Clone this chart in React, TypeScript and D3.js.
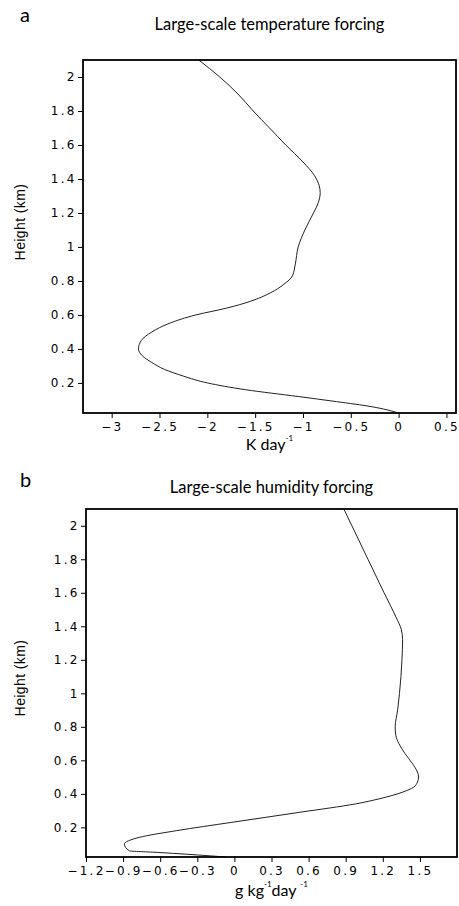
import { useEffect, useRef } from 'react';
import * as d3 from 'd3';

// panel a: large-scale temperature forcing (K/day) vs height (km)
const tempHeight = [2.1, 2.0, 1.9, 1.8, 1.7, 1.6, 1.5, 1.42, 1.36, 1.32, 1.26, 1.2, 1.1, 1.0, 0.9, 0.83, 0.78, 0.73, 0.68, 0.64, 0.6, 0.55, 0.5, 0.45, 0.4, 0.36, 0.32, 0.28, 0.24, 0.2, 0.16, 0.12, 0.09, 0.06, 0.023];
const tempForcing = [-2.09, -1.87, -1.68, -1.52, -1.35, -1.18, -1.0, -0.88, -0.83, -0.82, -0.84, -0.89, -0.98, -1.05, -1.08, -1.11, -1.2, -1.34, -1.55, -1.8, -2.12, -2.4, -2.58, -2.69, -2.72, -2.68, -2.58, -2.45, -2.25, -2.0, -1.6, -1.05, -0.65, -0.28, 0];

// panel b: large-scale humidity forcing (g/kg/day) vs height (km)
const humHeight = [2.1, 2.0, 1.8, 1.6, 1.45, 1.38, 1.32, 1.2, 1.0, 0.9, 0.8, 0.75, 0.7, 0.64, 0.58, 0.53, 0.5, 0.47, 0.44, 0.41, 0.37, 0.34, 0.29, 0.23, 0.18, 0.14, 0.1, 0.06, 0.05, 0.03, 0.023];
const humForcing = [0.885, 0.95, 1.08, 1.21, 1.31, 1.35, 1.36, 1.355, 1.335, 1.32, 1.3, 1.305, 1.33, 1.38, 1.44, 1.48, 1.49, 1.48, 1.45, 1.36, 1.17, 0.98, 0.53, -0.02, -0.47, -0.77, -0.89, -0.85, -0.61, -0.2, -0.07];

const heightTicks = [0.2, 0.4, 0.6, 0.8, 1, 1.2, 1.4, 1.6, 1.8, 2];
const tempTicks = [-3, -2.5, -2, -1.5, -1, -0.5, 0, 0.5];
const humTicks = [-1.2, -0.9, -0.6, -0.3, 0, 0.3, 0.6, 0.9, 1.2, 1.5];

const fmt = (d: number) => (d < 0 ? '\u2212' : '') + String(+Math.abs(d).toFixed(1));

const tickFont = '"DejaVu Sans", sans-serif';
const labelFont = 'Lato, sans-serif';

export default function App() {
  const svgRef = useRef<SVGSVGElement>(null);

  useEffect(() => {
    const svg = d3.select(svgRef.current);
    svg.selectAll('*').remove();

    const panels = [
      {
        letter: 'a', letterY: 22,
        title: 'Large-scale temperature forcing', titleY: 30,
        left: 83, right: 456, top: 60, bottom: 413,
        xDomain: [-3.3, 0.6], xTicks: tempTicks, xPad: 4,
        xs: tempForcing, hs: tempHeight, yLabelY: 222,
        unit: 'K day', sup1: '-1', mid: '', sup2: '', unitY: 450,
      },
      {
        letter: 'b', letterY: 487,
        title: 'Large-scale humidity forcing', titleY: 493,
        left: 86, right: 457, top: 509, bottom: 857,
        xDomain: [-1.2, 1.8], xTicks: humTicks, xPad: 4,
        xs: humForcing, hs: humHeight, yLabelY: 678,
        unit: 'g kg', sup1: '-1', mid: 'day ', sup2: '-1', unitY: 896,
      },
    ];

    panels.forEach(p => {
      const x = d3.scaleLinear().domain(p.xDomain).range([p.left, p.right]);
      const y = d3.scaleLinear().domain([0.023, 2.1]).range([p.bottom, p.top]);
      const g = svg.append('g');

      g.append('text')
        .attr('x', 20).attr('y', p.letterY)
        .attr('font-family', labelFont).attr('font-size', 20)
        .text(p.letter);

      g.append('text')
        .attr('x', (p.left + p.right) / 2).attr('y', p.titleY)
        .attr('text-anchor', 'middle')
        .attr('font-family', labelFont).attr('font-size', 16.5)
        .text(p.title);

      // x axis
      const xa = g.append('g')
        .attr('transform', `translate(0,${p.bottom})`)
        .call(d3.axisBottom(x).tickValues(p.xTicks).tickSize(5).tickPadding(p.xPad).tickFormat(d => fmt(+d)));
      xa.select('.domain').remove();
      xa.selectAll('text')
        .attr('font-family', tickFont)
        .attr('font-size', 12).attr('letter-spacing', 2.2).attr('fill', '#000');
      xa.selectAll('line').attr('stroke', '#000');

      // y axis
      const ya = g.append('g')
        .attr('transform', `translate(${p.left},0)`)
        .call(d3.axisLeft(y).tickValues(heightTicks).tickSize(5).tickPadding(1.5).tickFormat(d => String(d)));
      ya.select('.domain').remove();
      ya.selectAll('text')
        .attr('font-family', tickFont)
        .attr('font-size', 12).attr('letter-spacing', 2.2).attr('fill', '#000');
      ya.selectAll('line').attr('stroke', '#000');

      g.append('text')
        .attr('transform', `translate(20,${p.yLabelY}) rotate(-90)`)
        .attr('dy', '0.35em')
        .attr('text-anchor', 'middle')
        .attr('font-family', '"Liberation Sans", Arial, sans-serif').attr('font-size', 14)
        .attr('letter-spacing', 0.4)
        .text('Height (km)');

      // unit label with superscripts
      const t = g.append('text')
        .attr('x', (p.left + p.right) / 2).attr('y', p.unitY)
        .attr('text-anchor', 'middle')
        .attr('font-family', labelFont).attr('font-size', 16);
      t.append('tspan').text(p.unit);
      t.append('tspan').attr('font-size', 8).attr('dy', -9).text(p.sup1);
      if (p.mid) {
        t.append('tspan').attr('dy', 9).text(p.mid);
        t.append('tspan').attr('font-size', 8).attr('dy', -9).text(p.sup2);
      }

      const line = d3.line<number>()
        .x((_, i) => x(p.xs[i]))
        .y(d => y(d))
        .curve(d3.curveMonotoneY);

      g.append('path')
        .datum(p.hs)
        .attr('fill', 'none')
        .attr('stroke', '#222')
        .attr('stroke-width', 1)
        .attr('d', line);

      g.append('rect')
        .attr('x', p.left).attr('y', p.top)
        .attr('width', p.right - p.left).attr('height', p.bottom - p.top)
        .attr('fill', 'none').attr('stroke', '#000').attr('stroke-width', 1.8);
    });
  }, []);

  return (
    <svg ref={svgRef} width={459} height={906}
      style={{ position: 'absolute', left: 0, top: 0, background: '#fff' }} />
  );
}
